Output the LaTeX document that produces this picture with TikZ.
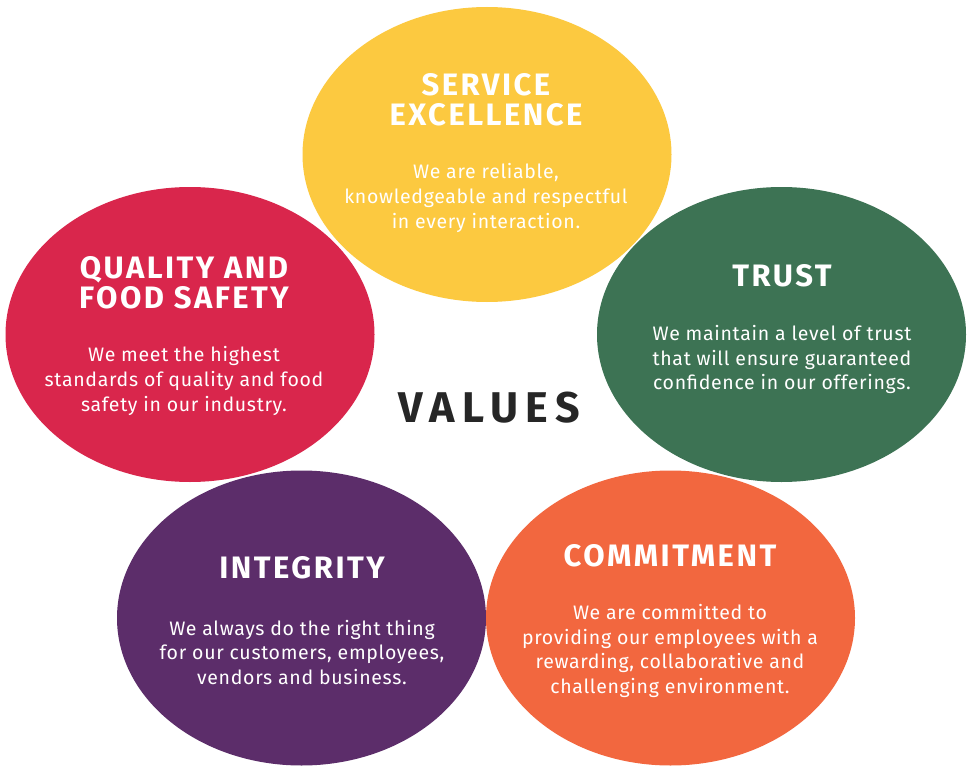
\documentclass[tikz,border=0pt]{standalone}
\usepackage{fontspec}
\setmainfont{Fira Sans}
\usetikzlibrary{shapes.geometric}
\definecolor{cyellow}{HTML}{FCC940}
\definecolor{cred}{HTML}{D9264C}
\definecolor{cgreen}{HTML}{3D7354}
\definecolor{cpurple}{HTML}{5C2D6A}
\definecolor{corange}{HTML}{F2673F}
\definecolor{cdark}{HTML}{262626}
\tikzset{
  blob/.style={ellipse, minimum width=369pt, minimum height=295pt, inner sep=0pt, draw=none},
  heading/.style={text=white, align=center, inner sep=0pt, font=\fontsize{31}{30}\selectfont\bfseries\addfontfeatures{LetterSpace=8}},
  body/.style={text=white, align=center, inner sep=0pt, font=\fontsize{19.5}{24.6}\selectfont\addfontfeatures{LetterSpace=3.5}},
}
\begin{document}
\begin{tikzpicture}[x=1pt,y=-1pt]
\useasboundingbox (0,0) rectangle (972,773);
\fill[white] (0,0) rectangle (972,773);
\node[blob, fill=cyellow] (serv) at (487,154.5) {};
\node[blob, fill=cred] (qual) at (190,334.5) {};
\node[blob, fill=cgreen] (trust) at (781.5,334.5) {};
\node[blob, fill=cpurple] (integ) at (301.5,618) {};
\node[blob, fill=corange] (commit) at (670.5,618) {};
\node[heading] (servh) at (486,100) {SERVICE\\EXCELLENCE};
\node[body] (servb) at (486,198) {We are reliable,\\knowledgeable and respectful\\in every interaction.};
\node[heading] (qualh) at (184,283) {QUALITY AND\\FOOD SAFETY};
\node[body] (qualb) at (184,381) {We meet the highest\\standards of quality and food\\safety in our industry.};
\node[heading] (trusth) at (782,276) {TRUST};
\node[body] (trustb) at (782,359.5) {We maintain a level of trust\\that will ensure guaranteed\\confidence in our offerings.};
\node[heading] (integh) at (302,568) {INTEGRITY};
\node[body] (integb) at (302,652.5) {We always do the right thing\\for our customers, employees,\\vendors and business.};
\node[heading] (commith) at (670,556) {COMMITMENT};
\node[body] (commitb) at (670,651) {We are committed to\\providing our employees with a\\rewarding, collaborative and\\challenging environment.};
\node[text=cdark, inner sep=0pt, font=\fontsize{43}{44}\selectfont\bfseries\addfontfeatures{LetterSpace=17}] (values) at (489,408) {VALUES};
\end{tikzpicture}
\end{document}
